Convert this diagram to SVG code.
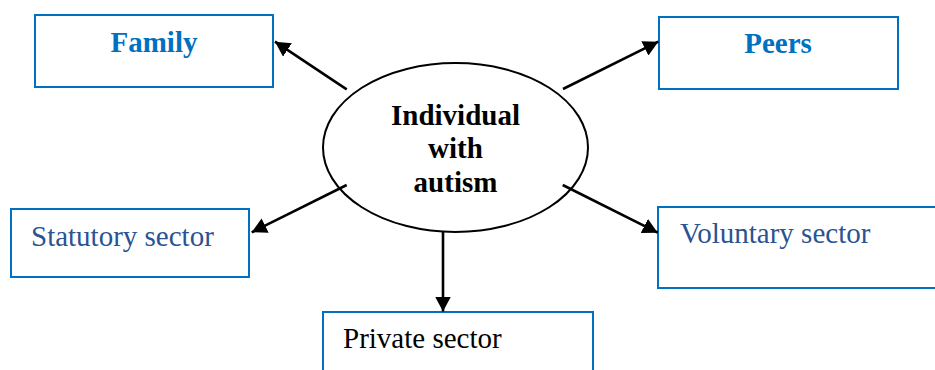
<svg xmlns="http://www.w3.org/2000/svg" width="935" height="370" viewBox="0 0 935 370">
<defs>
<marker id="ah" viewBox="0 0 15 16" refX="15" refY="8" markerWidth="15" markerHeight="16" markerUnits="userSpaceOnUse" orient="auto">
<path d="M0,0 L15,8 L0,16 Z" fill="#000"/>
</marker>
<style>
text{font-family:'Liberation Serif',serif;font-size:29px}
.box{fill:#fff;stroke:#0070C0;stroke-width:2}
.hd{font-weight:bold;fill:#0070C0;text-anchor:middle}
.sec{fill:#2A5392}
.blk{fill:#000}
.ctr{font-weight:bold;fill:#000;text-anchor:middle}
.con{stroke:#000;stroke-width:2.6;fill:none;marker-end:url(#ah)}
</style>
</defs>
<rect width="935" height="370" fill="#fff"/>
<g id="family">
<rect class="box" x="35" y="15" width="238" height="72"/>
<text class="hd" x="154" y="52">Family</text>
</g>
<g id="peers">
<rect class="box" x="659" y="17" width="239" height="72"/>
<text class="hd" x="778" y="53">Peers</text>
</g>
<g id="statutory">
<rect class="box" x="11" y="209" width="238" height="68"/>
<text class="sec" x="31" y="246">Statutory sector</text>
</g>
<g id="voluntary">
<rect class="box" x="658" y="207" width="290" height="81"/>
<text class="sec" x="680" y="243">Voluntary sector</text>
</g>
<g id="private">
<rect class="box" x="323" y="312" width="270" height="70"/>
<text class="blk" x="343" y="348">Private sector</text>
</g>
<g id="individual">
<ellipse cx="455.5" cy="147.5" rx="132.5" ry="84.5" fill="#fff" stroke="#000" stroke-width="2"/>
<text class="ctr" x="455.5" y="125">Individual</text>
<text class="ctr" x="455.5" y="158">with</text>
<text class="ctr" x="455.5" y="192">autism</text>
</g>
<g id="connectors">
<line class="con" x1="346.7" y1="89.3" x2="275" y2="41.7"/>
<line class="con" x1="563" y1="89" x2="658.3" y2="41.7"/>
<line class="con" x1="346.7" y1="185" x2="251.7" y2="232.3"/>
<line class="con" x1="562.7" y1="185" x2="657.7" y2="232.7"/>
<line class="con" x1="443" y1="232" x2="443" y2="311.5"/>
</g>
</svg>
